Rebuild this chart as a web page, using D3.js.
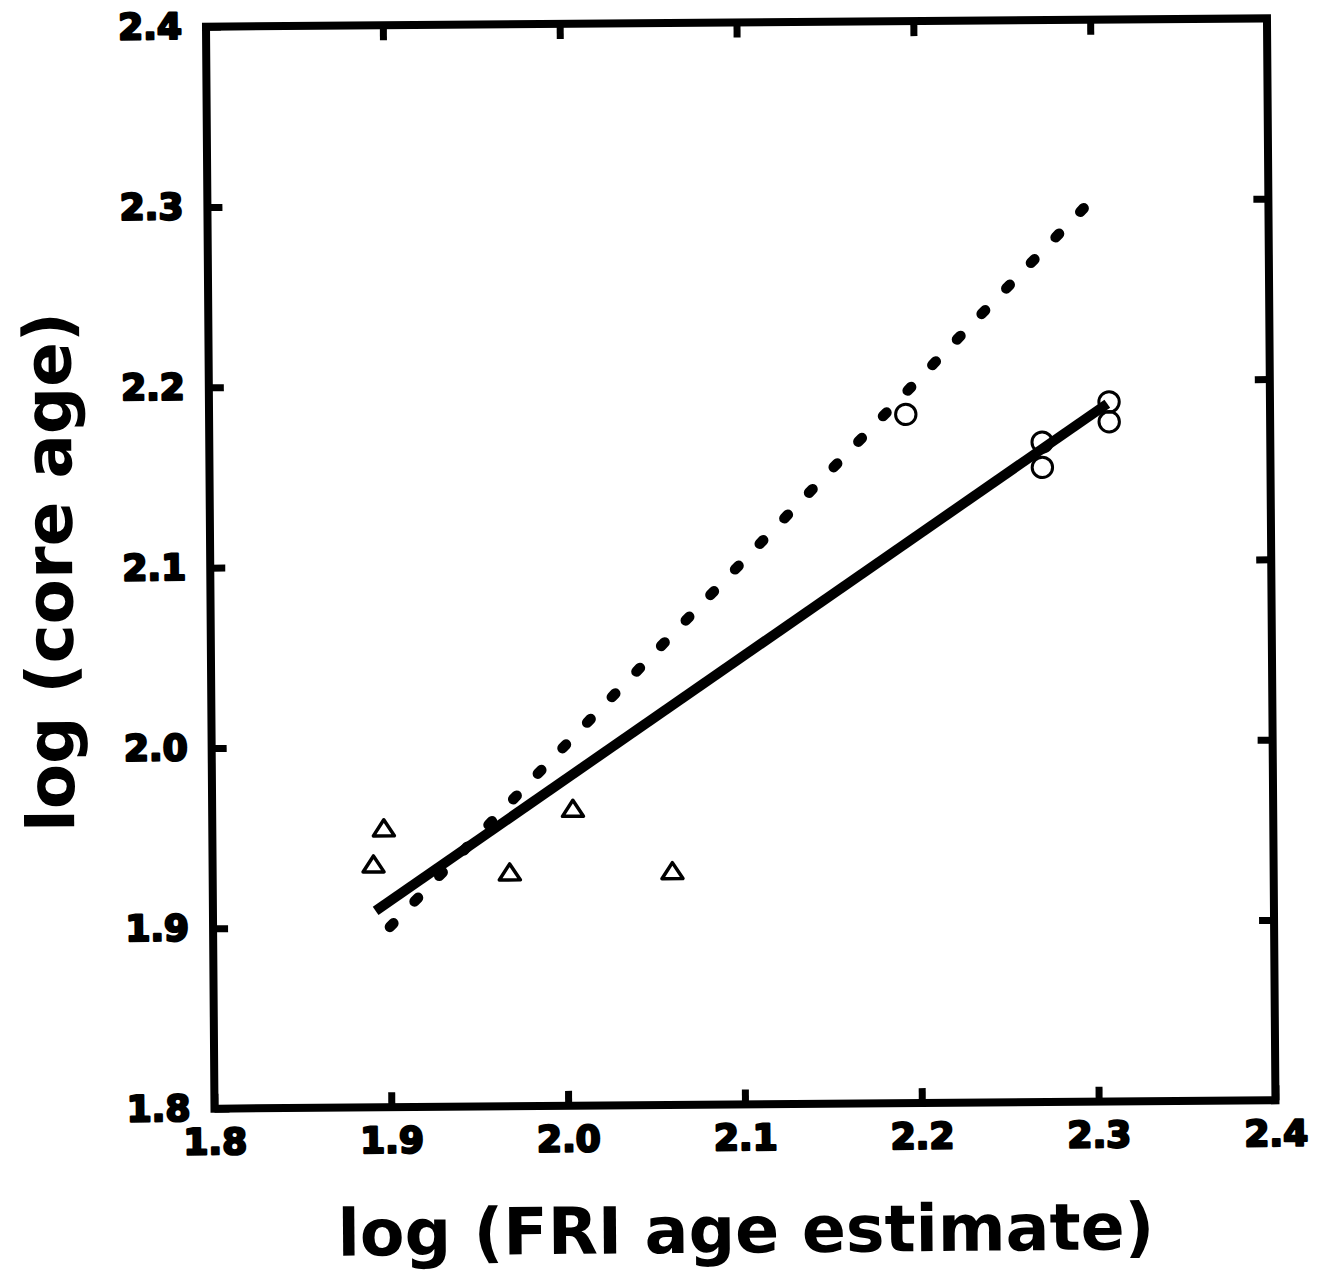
<!DOCTYPE html>
<html>
<head>
<meta charset="utf-8">
<script src="https://cdn.jsdelivr.net/npm/d3@7"></script>
<style>
  html, body { margin: 0; padding: 0; background: #fff; }
  svg { display: block; }
</style>
</head>
<body>
<svg id="chart" width="1326" height="1272"></svg>
<script>
// ---- data ----
const xTickValues = [1.8, 1.9, 2.0, 2.1, 2.2, 2.3, 2.4];
const yTickValues = [1.8, 1.9, 2.0, 2.1, 2.2, 2.3, 2.4];
const triangleX = [1.891, 1.897, 1.968, 2.004, 2.060];
const triangleY = [1.935, 1.955, 1.930, 1.965, 1.930];
const circleX = [2.194, 2.271, 2.271, 2.309, 2.309];
const circleY = [2.182, 2.166, 2.152, 2.188, 2.177];
const regressionX = [1.892, 2.308];
const regressionY = [1.909, 2.187];
const oneToOneX = [1.9, 2.2955];
const oneToOneY = [1.9, 2.2955];
const xTitle = "log (FRI age estimate)";
const yTitle = "log (core age)";

// ---- layout ----
const W = 1061, H = 1082;
const svg = d3.select("#chart");
const g = svg.append("g").attr("transform", "translate(206,26.7) rotate(-0.45)");

const x = d3.scaleLinear().domain([1.8, 2.4]).range([0, W]);
const y = d3.scaleLinear().domain([1.8, 2.4]).range([H, 0]);
const fmt = d3.format(".1f");

const labelFont = "'DejaVu Sans', sans-serif";

function styleAxis(sel, showLabels) {
  sel.select(".domain").remove();
  sel.selectAll(".tick line").attr("stroke", "#000").attr("stroke-width", 7);
  if (showLabels) {
    sel.selectAll(".tick text")
      .attr("fill", "#000")
      .attr("stroke", "#000")
      .attr("stroke-width", 2.4)
      .attr("stroke-linejoin", "round")
      .style("font-family", labelFont)
      .style("font-weight", "bold")
      .style("font-size", "36px");
  } else {
    sel.selectAll(".tick text").remove();
  }
}

// bottom axis (labels)
g.append("g").attr("transform", `translate(0,${H})`)
  .call(d3.axisBottom(x).tickValues(xTickValues).tickFormat(fmt).tickSize(-15).tickPadding(20))
  .call(s => styleAxis(s, true));
// top axis (ticks only)
g.append("g")
  .call(d3.axisTop(x).tickValues(xTickValues.slice(1, -1)).tickSize(-15))
  .call(s => styleAxis(s, false));
// left axis (labels)
g.append("g")
  .call(d3.axisLeft(y).tickValues(yTickValues).tickFormat(fmt).tickSize(-15).tickPadding(24))
  .call(s => styleAxis(s, true));
// right axis (ticks only)
g.append("g").attr("transform", `translate(${W},0)`)
  .call(d3.axisRight(y).tickValues(yTickValues.slice(1, -1)).tickSize(-15))
  .call(s => styleAxis(s, false));

// frame
g.append("rect")
  .attr("x", x(1.8)).attr("y", y(2.4))
  .attr("width", x(2.4) - x(1.8)).attr("height", y(1.8) - y(2.4))
  .attr("fill", "none").attr("stroke", "#000").attr("stroke-width", 8)
  .attr("stroke-linejoin", "miter");

// 1:1 dotted line
const line = d3.line().x(d => x(d[0])).y(d => y(d[1]));
g.append("path")
  .datum(oneToOneX.map((v, i) => [v, oneToOneY[i]]))
  .attr("d", line)
  .attr("fill", "none").attr("stroke", "#000")
  .attr("stroke-width", 10.5)
  .attr("stroke-linecap", "round")
  .attr("stroke-dasharray", "5 30.5");

// regression line
g.append("path")
  .datum(regressionX.map((v, i) => [v, regressionY[i]]))
  .attr("d", line)
  .attr("fill", "none").attr("stroke", "#000")
  .attr("stroke-width", 10)
  .attr("stroke-linecap", "butt");

// triangles
const tri = "M0,-8L10.5,8L-10.5,8Z";
g.selectAll("path.tri")
  .data(triangleX.map((v, i) => [v, triangleY[i]]))
  .join("path").attr("class", "tri")
  .attr("d", tri)
  .attr("transform", d => `translate(${x(d[0])},${y(d[1])})`)
  .attr("fill", "none").attr("stroke", "#000").attr("stroke-width", 3.5)
  .attr("stroke-linejoin", "round");

// circles
g.selectAll("circle.pt")
  .data(circleX.map((v, i) => [v, circleY[i]]))
  .join("circle").attr("class", "pt")
  .attr("cx", d => x(d[0])).attr("cy", d => y(d[1]))
  .attr("r", 10.2)
  .attr("fill", "none").attr("stroke", "#000").attr("stroke-width", 3);

// axis titles
g.append("text")
  .attr("x", (x(1.8) + x(2.4)) / 2).attr("y", H + 148)
  .attr("text-anchor", "middle")
  .style("font-family", labelFont).style("font-weight", "bold").style("font-size", "65px")
  .attr("fill", "#000")
  .text(xTitle);

g.append("text")
  .attr("transform", `translate(-138,${(y(1.8) + y(2.4)) / 2 + 3}) rotate(-90)`)
  .attr("text-anchor", "middle")
  .style("font-family", labelFont).style("font-weight", "bold").style("font-size", "66px")
  .attr("fill", "#000")
  .text(yTitle);
</script>
</body>
</html>
